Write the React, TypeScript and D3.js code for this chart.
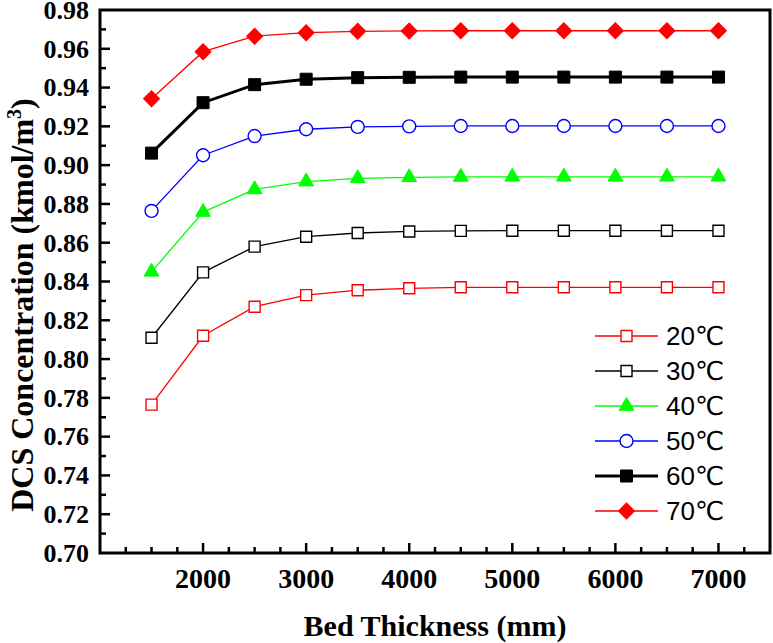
import React from "react";
import * as d3 from "d3";

const thickness = [1500, 2000, 2500, 3000, 3500, 4000, 4500, 5000, 5500, 6000, 6500, 7000];
const t20 = [0.7765, 0.812, 0.827, 0.833, 0.8355, 0.8365, 0.837, 0.837, 0.837, 0.837, 0.837, 0.837];
const t30 = [0.811, 0.8447, 0.858, 0.8631, 0.865, 0.8658, 0.8661, 0.8662, 0.8662, 0.8662, 0.8662, 0.8662];
const t40 = [0.845, 0.8758, 0.8875, 0.8915, 0.8932, 0.8937, 0.8939, 0.894, 0.894, 0.894, 0.894, 0.894];
const t50 = [0.8764, 0.9051, 0.915, 0.9185, 0.9197, 0.92, 0.9202, 0.9202, 0.9202, 0.9202, 0.9202, 0.9202];
const t60 = [0.9062, 0.9322, 0.9415, 0.9443, 0.9451, 0.9453, 0.9454, 0.9454, 0.9454, 0.9454, 0.9454, 0.9454];
const t70 = [0.9342, 0.9585, 0.9665, 0.9683, 0.969, 0.9692, 0.9693, 0.9693, 0.9693, 0.9693, 0.9693, 0.9693];
const seriesNames = ["20℃", "30℃", "40℃", "50℃", "60℃", "70℃"];
const xTickLabels = [2000, 3000, 4000, 5000, 6000, 7000];
const yTickLabels = [0.7, 0.72, 0.74, 0.76, 0.78, 0.8, 0.82, 0.84, 0.86, 0.88, 0.9, 0.92, 0.94, 0.96, 0.98];

type Style = { color: string; width: number; marker: string; fill: boolean };
const styles: Style[] = [
  { color: "#ff0000", width: 1.3, marker: "square", fill: false },
  { color: "#000000", width: 1.3, marker: "square", fill: false },
  { color: "#00ff00", width: 1.3, marker: "triangle", fill: true },
  { color: "#0000ff", width: 1.3, marker: "circle", fill: false },
  { color: "#000000", width: 3, marker: "square", fill: true },
  { color: "#ff0000", width: 1.3, marker: "diamond", fill: true },
];
const allSeries = [t20, t30, t40, t50, t60, t70];

const W = 773, H = 643;
const L = 100, R = 770, T = 10, B = 553;
const SERIF = "'Liberation Serif', 'Times New Roman', Times, serif";
const SANS = "'Liberation Sans', Arial, 'DejaVu Sans', sans-serif";

function Marker({ kind, fill, color, x, y }: { kind: string; fill: boolean; color: string; x: number; y: number }) {
  let path = "";
  if (kind === "square") path = d3.symbol().type(d3.symbolSquare).size(fill ? 144 : 121)()!;
  if (kind === "circle") path = d3.symbol().type(d3.symbolCircle).size(Math.PI * 42)()!;
  if (kind === "triangle") path = d3.symbol().type(d3.symbolTriangle).size(95)()!;
  if (kind === "diamond") path = d3.symbol().type(d3.symbolSquare).size(128)()!;
  const rot = kind === "diamond" ? " rotate(45)" : "";
  return (
    <path
      d={path}
      transform={`translate(${x},${y})${rot}`}
      fill={fill ? color : "#fff"}
      stroke={color}
      strokeWidth={fill ? 1 : 1.4}
    />
  );
}

export default function App() {
  const x = d3.scaleLinear().domain([1000, 7500]).range([L, R]);
  const y = d3.scaleLinear().domain([0.7, 0.98]).range([B, T]);
  const line = d3
    .line<number>()
    .x((_, i) => x(thickness[i]))
    .y((d) => y(d));

  const xMinor = d3.range(1250, 7500, 250);
  const yMinor = d3.range(71, 98, 1).map((v) => v / 100);

  const legendY0 = 336;
  const legendDy = 35;

  return (
    <svg width={W} height={H} style={{ position: "absolute", left: 0, top: 0, background: "#fff" }}>
      {allSeries.map((s, si) => (
        <g key={si}>
          <path d={line(s)!} fill="none" stroke={styles[si].color} strokeWidth={styles[si].width} />
          {s.map((v, i) => (
            <Marker key={i} kind={styles[si].marker} fill={styles[si].fill} color={styles[si].color} x={x(thickness[i])} y={y(v)} />
          ))}
        </g>
      ))}

      <rect x={L} y={T} width={R - L} height={B - T} fill="none" stroke="#000" strokeWidth={3} />

      {xMinor.map((v) => {
        const major = v % 1000 === 0;
        return <line key={v} x1={x(v)} x2={x(v)} y1={B} y2={B - (major ? 10 : 6)} stroke="#000" strokeWidth={2.5} />;
      })}
      {xTickLabels.map((v) => (
        <text key={v} x={x(v)} y={588} textAnchor="middle" style={{ fontFamily: SERIF, fontWeight: 700, fontSize: 28 }}>
          {v}
        </text>
      ))}

      {yMinor.map((v) => {
        const major = Math.round(v * 100) % 2 === 0;
        return <line key={v} x1={L} x2={L + (major ? 10 : 6)} y1={y(v)} y2={y(v)} stroke="#000" strokeWidth={2.5} />;
      })}
      {yTickLabels.map((v) => (
        <text key={v} x={89} y={y(v)} dy="0.34em" textAnchor="end" style={{ fontFamily: SERIF, fontWeight: 700, fontSize: 26 }}>
          {v.toFixed(2)}
        </text>
      ))}

      <text x={(L + R) / 2} y={636} textAnchor="middle" style={{ fontFamily: SERIF, fontWeight: 700, fontSize: 30 }}>
        Bed Thickness (mm)
      </text>
      <text transform="translate(33,305) rotate(-90)" textAnchor="middle" style={{ fontFamily: SERIF, fontWeight: 700, fontSize: 32 }}>
        DCS Concentration (kmol/m<tspan dy={-12} style={{ fontSize: 20 }}>3</tspan><tspan dy={12}>)</tspan>
      </text>

      {seriesNames.map((n, i) => {
        const ly = legendY0 + i * legendDy;
        return (
          <g key={n}>
            <line x1={595} x2={658} y1={ly} y2={ly} stroke={styles[i].color} strokeWidth={styles[i].width} />
            <Marker kind={styles[i].marker} fill={styles[i].fill} color={styles[i].color} x={626.5} y={ly} />
            <text x={666} y={ly} dy="0.36em" style={{ fontFamily: SANS, fontSize: 26 }}>
              {n}
            </text>
          </g>
        );
      })}
    </svg>
  );
}
